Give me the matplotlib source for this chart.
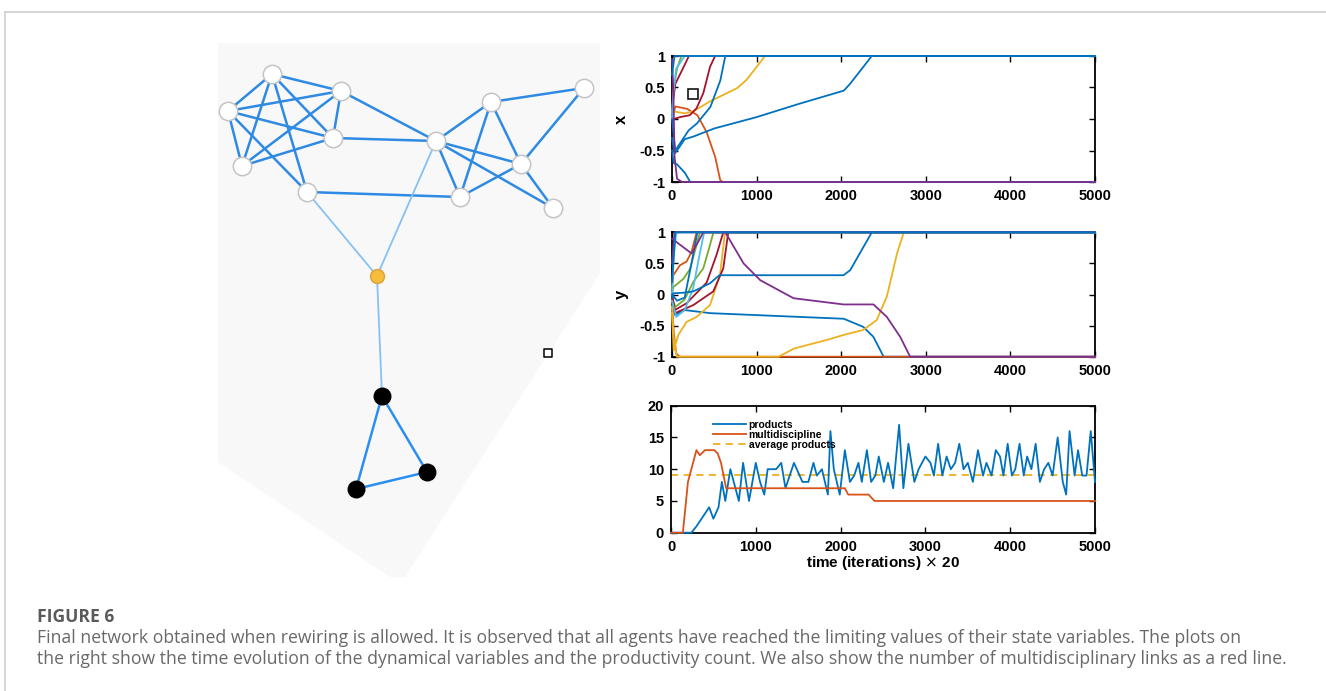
import numpy as np
import matplotlib
matplotlib.use("Agg")
from matplotlib import pyplot as plt
from matplotlib.patches import Polygon

plt.rcParams['font.family'] = ['Liberation Sans', 'DejaVu Sans']

# MATLAB default line colours
c_blue = "#0072BD"
c_orange = "#D95319"
c_yellow = "#EDB120"
c_purple = "#7E2F8E"
c_green = "#77AC30"
c_cyan = "#4DBEEE"
c_red = "#A2142F"

# ---------------- network ----------------
node_x = [272, 341, 228, 333, 242, 307, 436, 491, 584, 521, 460, 553, 377, 382, 427, 356]
node_y = [74, 91, 111, 138, 166, 192, 141, 102, 88, 164, 197, 208, 276, 396, 472, 489]
node_kind = ["w"] * 12 + ["y", "k", "k", "k"]
strong_links = [(0, 1), (0, 2), (0, 3), (0, 4), (0, 5), (1, 2), (1, 3), (1, 4), (1, 6),
                (2, 3), (2, 4), (2, 5), (3, 4), (3, 6), (5, 10),
                (6, 7), (6, 10), (6, 9), (6, 11), (7, 8), (7, 10), (7, 9), (8, 9),
                (9, 10), (9, 11)]
weak_links = [(5, 12), (6, 12), (12, 13)]
triangle_links = [(13, 14), (13, 15), (14, 15)]
panel_outline_x = [218, 600, 600, 405, 390, 218]
panel_outline_y = [43, 43, 273, 577, 577, 462]

# ---------------- x(t) ----------------
x_orange = ([0, 40, 180, 300, 410, 510, 570, 600, 5000], [0.0, 0.2, 0.16, 0.06, -0.21, -0.6, -0.97, -1, -1])
x_yellow = ([0, 20, 150, 250, 450, 770, 880, 1100, 5000], [0.0, 0.12, 0.09, 0.12, 0.28, 0.49, 0.62, 1, 1])
x_red1 = ([0, 20, 95, 210, 290, 370, 450, 510, 5000], [0.0, 0.0, 0.03, 0.06, 0.17, 0.41, 0.83, 1, 1])
x_red2 = ([0, 15, 40, 110, 200, 5000], [0.0, 0.3, 0.56, 0.75, 1, 1])
x_green = ([0, 20, 60, 110, 5000], [0.1, 0.5, 0.8, 1, 1])
x_cyan = ([0, 15, 50, 150, 5000], [0.0, 0.4, 0.8, 1, 1])
x_blue_down = ([0, 20, 60, 150, 216, 5000], [-0.5, -0.7, -0.72, -0.85, -1, -1])
x_blue_mid = ([0, 39, 197, 295, 453, 571, 630, 5000], [0.0, -0.5, -0.18, -0.07, 0.19, 0.61, 1, 1])
x_blue_long = ([0, 30, 60, 150, 250, 500, 1000, 1500, 2030, 2100, 2362, 5000],
               [-0.3, -0.55, -0.5, -0.32, -0.28, -0.15, 0.03, 0.24, 0.45, 0.55, 1, 1])
x_purple = ([0, 15, 30, 60, 120, 5000], [0.95, 0.5, -0.6, -0.95, -1, -1])
x_blue_top = ([0, 30, 5000], [0.7, 1, 1])

# ---------------- y(t) ----------------
y_blue_low = ([0, 35, 150, 450, 1500, 2030, 2260, 2380, 2460, 2500, 5000],
              [-0.05, -0.33, -0.25, -0.3, -0.36, -0.39, -0.52, -0.68, -0.89, -1, -1])
y_orange_down = ([0, 20, 50, 90, 5000], [-0.1, -0.6, -0.95, -1, -1])
y_orange_up = ([0, 16, 94, 173, 232, 291, 5000], [0.1, 0.31, 0.47, 0.53, 0.69, 1, 1])
y_yellow_low = ([0, 20, 55, 1260, 1440, 1830, 2030, 2260, 2420, 2540, 2660, 2740, 5000],
                [-0.2, -0.7, -1, -1, -0.87, -0.73, -0.65, -0.57, -0.41, -0.03, 0.66, 1, 1])
y_yellow_up = ([0, 20, 75, 173, 291, 449, 567, 626, 5000], [-0.3, -0.9, -0.65, -0.44, -0.36, -0.17, 0.31, 1, 1])
y_green1 = ([0, 16, 134, 213, 291, 330, 5000], [0.0, 0.12, 0.25, 0.41, 0.8, 1, 1])
y_green2 = ([0, 40, 150, 250, 370, 450, 490, 5000], [-0.05, -0.2, -0.08, 0.2, 0.42, 0.8, 1, 1])
y_red1 = ([0, 16, 35, 173, 409, 527, 606, 5000], [0.0, -0.14, -0.25, -0.14, 0.19, 0.64, 1, 1])
y_red2 = ([0, 35, 252, 488, 606, 665, 5000], [0.0, -0.3, -0.17, 0.05, 0.42, 1, 1])
y_cyan1 = ([0, 20, 50, 5000], [0.0, 0.6, 1, 1])
y_cyan2 = ([0, 50, 150, 250, 320, 380, 5000], [-0.1, -0.36, -0.25, 0.1, 0.6, 1, 1])
y_blue_flat = ([0, 16, 150, 252, 449, 560, 2027, 2106, 2362, 5000],
               [-0.05, 0.02, 0.03, 0.05, 0.18, 0.31, 0.31, 0.39, 1, 1])
y_blue_up = ([0, 60, 150, 230, 300, 5000], [0.0, -0.1, -0.05, 0.5, 1, 1])
y_purple1 = ([0, 75, 232, 311, 370, 5000], [0.9, 0.82, 0.66, 0.85, 1, 1])
y_purple2 = ([0, 30, 630, 846, 1043, 1437, 2027, 2382, 2539, 2697, 2815, 5000],
             [0.5, 1, 1, 0.5, 0.23, -0.06, -0.16, -0.16, -0.36, -0.68, -1, -1])
y_blue_top = ([0, 40, 5000], [0.2, 1, 1])

# ---------------- productivity ----------------
prod_t = [0, 240, 300, 450, 500, 560, 600, 640, 700, 760, 800, 850, 920, 1000, 1050, 1100, 1140, 1240,
          1300, 1350, 1450, 1550, 1620, 1680, 1720, 1780, 1850, 1880, 1920, 1990, 2050, 2110, 2160,
          2210, 2250, 2310, 2360, 2410, 2450, 2510, 2560, 2620, 2690, 2740, 2800, 2870, 2920, 3000,
          3060, 3100, 3150, 3200, 3250, 3300, 3350, 3400, 3450, 3500, 3560, 3620, 3680, 3720, 3780,
          3830, 3880, 3920, 3970, 4020, 4060, 4110, 4160, 4200, 4250, 4300, 4350, 4400, 4450, 4500,
          4560, 4620, 4660, 4700, 4760, 4800, 4850, 4900, 4950, 5000]
prod_v = [0, 0, 1, 4, 2.2, 4, 8, 5, 10, 7, 5, 11, 5, 11, 8, 6, 10, 10,
          11, 7, 11, 8, 8, 11, 9, 10, 6, 16, 10, 6, 13, 8, 9,
          11, 8, 13, 8, 9, 12, 8, 11, 7, 17, 7, 14, 8, 10, 12,
          11, 9, 14, 9, 12, 10, 11, 14, 10, 11, 8, 13, 9, 11, 9,
          13, 12, 9, 14, 9, 10, 14, 9, 12, 10, 14, 8, 10, 11, 9,
          15, 8, 6, 16, 9, 13, 9, 9, 16, 8]
multi_t = [0, 140, 200, 300, 340, 400, 510, 550, 590, 650, 2050, 2090, 2330, 2400, 5000]
multi_v = [0, 0, 8, 13, 12.2, 13, 13, 12.5, 11, 7, 7, 6, 6, 5, 5]
avg_products = 9.1

time_ticks = [0, 1000, 2000, 3000, 4000, 5000]
state_ticks = [-1, -0.5, 0, 0.5, 1]
state_labels = ["-1", "-0.5", "0", "0.5", "1"]
count_ticks = [0, 5, 10, 15, 20]

caption_title = "FIGURE 6"
caption_lines = [
    "Final network obtained when rewiring is allowed. It is observed that all agents have reached the limiting values of their state variables. The plots on",
    "the right show the time evolution of the dynamical variables and the productivity count. We also show the number of multidisciplinary links as a red line.",
]

W, H = 1326, 691
fig = plt.figure(figsize=(W / 100, H / 100), dpi=100)

# page frame + caption (pixel coordinates)
bg = fig.add_axes([0, 0, 1, 1])
bg.set_xlim(0, W)
bg.set_ylim(H, 0)
bg.axis("off")
bg.plot([4.5, W], [12, 12], color="#cfcfcf", lw=1.2)
bg.plot([4.5, 4.5], [12, H], color="#cfcfcf", lw=1.2)
bg.text(37, 617, caption_title, fontsize=12.6, fontweight="bold", color="#5a5a5a",
        family=["Open Sans", "DejaVu Sans"], va="center")
for i, line in enumerate(caption_lines):
    bg.text(37, 638 + i * 21, line, fontsize=12.7, color="#696969",
            family=["Open Sans", "DejaVu Sans"], va="center")

# network panel
net = fig.add_axes([218 / W, 1 - 577 / H, (600 - 218) / W, (577 - 43) / H])
net.set_xlim(218, 600)
net.set_ylim(577, 43)
net.axis("off")
net.add_patch(Polygon(list(zip(panel_outline_x, panel_outline_y)), closed=True,
                      facecolor="#f8f8f8", edgecolor="none"))
for a, b in strong_links:
    net.plot([node_x[a], node_x[b]], [node_y[a], node_y[b]], color="#2f8ae4", lw=1.8,
             solid_capstyle="round", zorder=2)
for a, b in weak_links:
    net.plot([node_x[a], node_x[b]], [node_y[a], node_y[b]], color="#86c1f3", lw=1.3, zorder=2)
for a, b in triangle_links:
    net.plot([node_x[a], node_x[b]], [node_y[a], node_y[b]], color="#2a8ff0", lw=1.8, zorder=2)
face = {"w": "white", "y": "#f6bd3b", "k": "black"}
edge = {"w": "#c4c4c4", "y": "#d8a540", "k": "black"}
size = {"w": 175, "y": 100, "k": 140}
for xi, yi, k in zip(node_x, node_y, node_kind):
    net.scatter(xi, yi, s=size[k], facecolor=face[k], edgecolor=edge[k], linewidth=1.1, zorder=3)
net.scatter([548], [353], marker="s", s=40, facecolor="white", edgecolor="black", linewidth=1.1, zorder=4)


def style_axes(ax, yticks, ylabels, ylim):
    ax.set_xlim(0, 5000)
    ax.set_ylim(*ylim)
    ax.set_xticks(time_ticks)
    ax.set_xticklabels([str(t) for t in time_ticks])
    ax.set_yticks(yticks)
    ax.set_yticklabels(ylabels)
    ax.tick_params(direction="in", length=4, width=1, top=True, right=True,
                   labelsize=10.5, pad=5)
    for lab in ax.get_xticklabels() + ax.get_yticklabels():
        lab.set_fontweight("bold")
    for sp in ax.spines.values():
        sp.set_linewidth(1.3)


lw = 1.3
ax1 = fig.add_axes([672 / W, 1 - 182 / H, 423 / W, 126 / H])
for (t, v), c in [(x_orange, c_orange), (x_yellow, c_yellow), (x_red1, c_red), (x_red2, c_red),
                  (x_green, c_green), (x_cyan, c_cyan), (x_blue_down, c_blue), (x_blue_mid, c_blue),
                  (x_blue_long, c_blue), (x_purple, c_purple), (x_blue_top, c_blue)]:
    ax1.plot(t, v, color=c, lw=lw, clip_on=False, zorder=3)
ax1.plot([250], [0.4], marker="s", ms=7, mfc="white", mec="black", mew=1.1, zorder=4)
style_axes(ax1, state_ticks, state_labels, (-1, 1))
ax1.set_ylabel("x", fontsize=12, fontweight="bold")
ax1.yaxis.set_label_coords(-0.103, 0.5)

ax2 = fig.add_axes([672 / W, 1 - 356.7 / H, 423 / W, 124.4 / H])
for (t, v), c in [(y_blue_low, c_blue), (y_orange_down, c_orange), (y_orange_up, c_orange),
                  (y_yellow_low, c_yellow), (y_yellow_up, c_yellow), (y_green1, c_green),
                  (y_green2, c_green), (y_red1, c_red), (y_red2, c_red), (y_cyan1, c_cyan),
                  (y_cyan2, c_cyan), (y_blue_flat, c_blue), (y_blue_up, c_blue),
                  (y_purple1, c_purple), (y_purple2, c_purple), (y_blue_top, c_blue)]:
    ax2.plot(t, v, color=c, lw=lw, clip_on=False, zorder=3)
style_axes(ax2, state_ticks, state_labels, (-1, 1))
ax2.set_ylabel("y", fontsize=12, fontweight="bold")
ax2.yaxis.set_label_coords(-0.103, 0.5)

ax3 = fig.add_axes([671 / W, 1 - 532.7 / H, 424 / W, 127 / H])
ax3.plot(prod_t, prod_v, color=c_blue, lw=lw, label="products", clip_on=False, zorder=3)
ax3.plot(multi_t, multi_v, color=c_orange, lw=lw, label="multidiscipline", clip_on=False, zorder=3)
ax3.axhline(avg_products, color=c_yellow, lw=lw, ls=(0, (4, 3)), label="average products")
style_axes(ax3, count_ticks, [str(c) for c in count_ticks], (0, 20))
ax3.set_xlabel("time (iterations) $\\times$ 20", fontsize=11, fontweight="bold")
ax3.xaxis.set_label_coords(0.5, -0.17)
leg = ax3.legend(loc="upper left", bbox_to_anchor=(0.09, 0.92), frameon=False, fontsize=7.5,
                 handlelength=3.1, handletextpad=0.3, labelspacing=0.0, borderaxespad=0)
for txt in leg.get_texts():
    txt.set_fontweight("bold")

fig.savefig("out.png", dpi=100)
